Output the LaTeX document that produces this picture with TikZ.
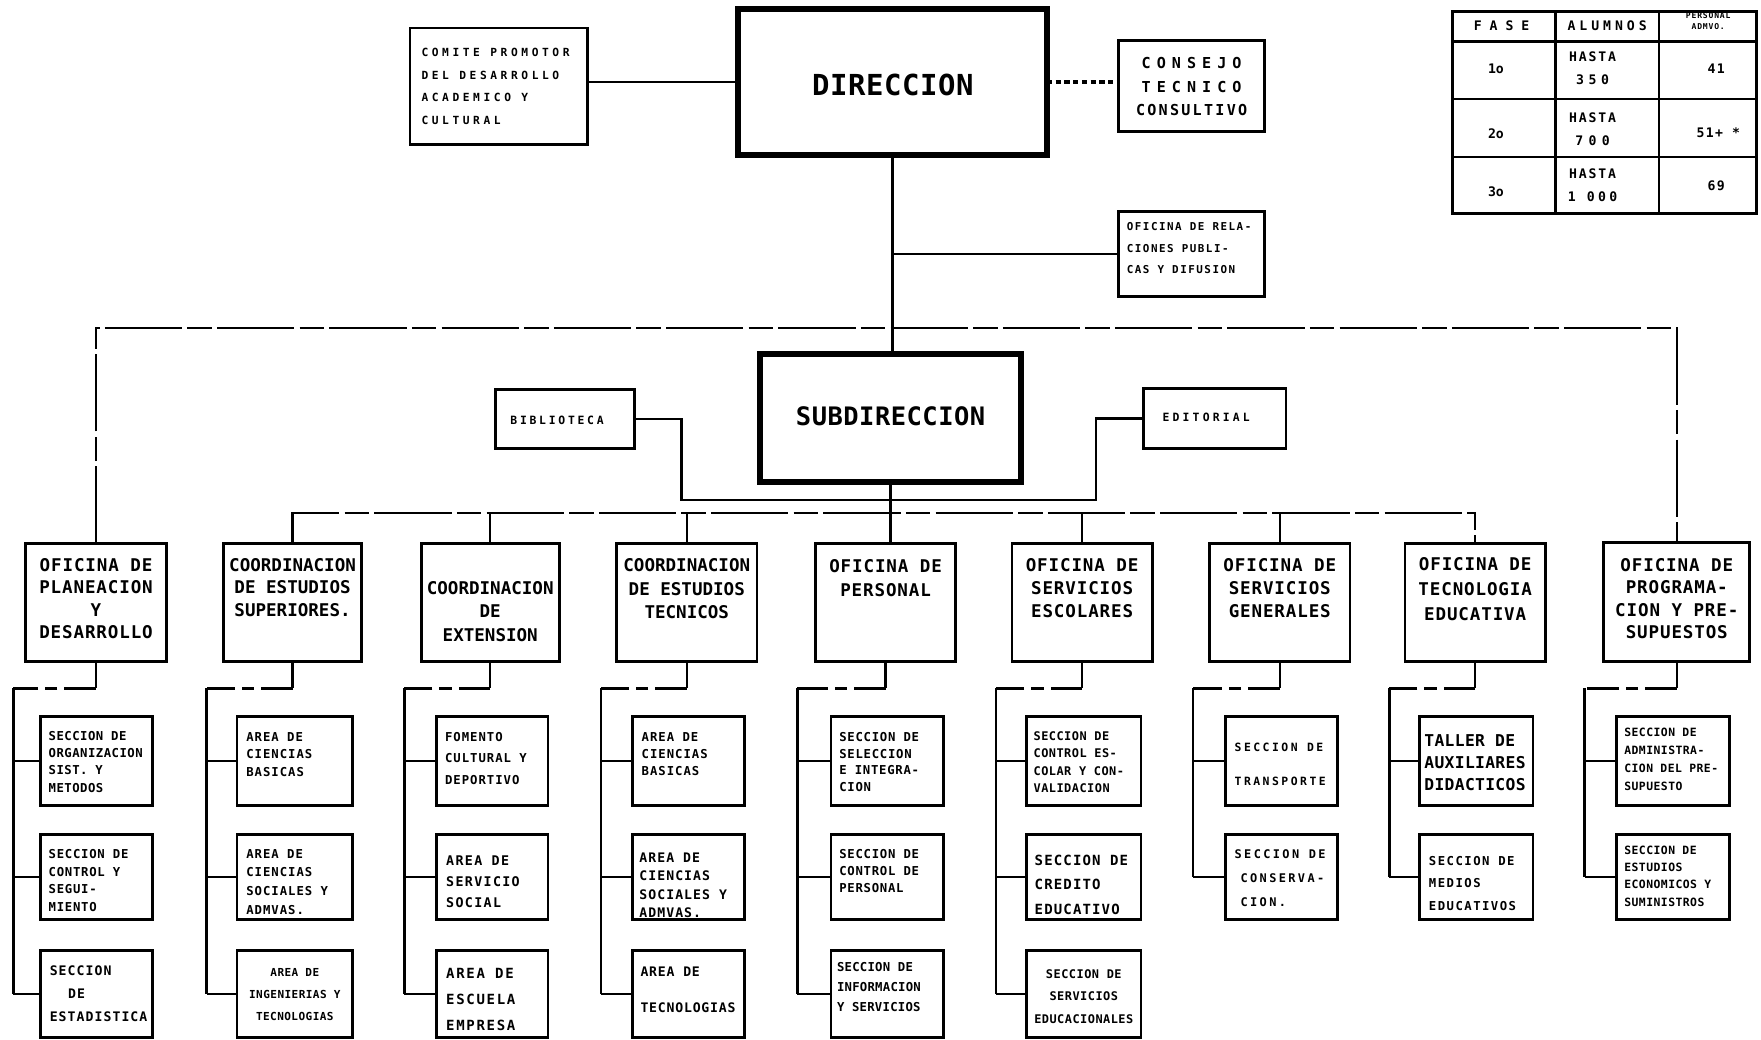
\documentclass[tikz,border=0pt]{standalone}
\usepackage{fontspec}
\newfontfamily\orgfont{DejaVu Sans Mono}
\usetikzlibrary{fit}
% lettering: size, baselineskip, letter spacing
\newcommand\fnt[3]{\orgfont\bfseries\fontsize{#1}{#2}\selectfont\addfontfeature{LetterSpace=#3}}
% boxed unit from two corners
\newcommand\ubox[6][box]{\node[#1, fit={(#3,#4) (#5,#6)}] (#2) {};}
\tikzset{
  box/.style={draw, line width=1.6pt, inner sep=0pt, outer sep=0pt},
  bigbox/.style={draw, line width=3.4pt, inner sep=0pt, outer sep=0pt},
  ln/.style={line width=1.4pt},
  worn/.style={ln, dash pattern=on 44pt off 3pt on 14pt off 3pt},
  gap/.style={ln, dash pattern=on 18pt off 4pt on 7pt off 4pt},
  dotln/.style={line width=2.2pt, dash pattern=on 3pt off 2pt},
  st/.style n args={3}{inner sep=0pt, align=left, anchor=north west, font=\fnt{#1}{#2}{#3}},
  ct/.style n args={3}{inner sep=0pt, align=center, anchor=north, font=\fnt{#1}{#2}{#3}},
  cc/.style n args={3}{inner sep=0pt, align=center, font=\fnt{#1}{#2}{#3}},
}
\begin{document}
\begin{tikzpicture}[x=0.0225cm, y=-0.0225cm]
\useasboundingbox (0,0) rectangle (1568,926);
\fill[white] (0,0) rectangle (1568,926);

% ---------- top level ----------
\ubox{comite}{365}{25}{523}{129}
\node[st={6.4}{12.8}{32}] (comitet) at (375,43) {COMITE PROMOTOR\\DEL DESARROLLO\\ACADEMICO Y\\CULTURAL};
\ubox[bigbox]{dir}{657}{8}{932}{138}
\node[cc={16.5}{20}{2}] (dirt) at (795,76) {DIRECCION};
\ubox{consejo}{996}{36}{1126}{117}
\node[ct={8.6}{13.4}{15}] (consejot) at (1061,51) {{\addfontfeature{LetterSpace=40}CONSEJO}\\{\addfontfeature{LetterSpace=40}TECNICO}\\CONSULTIVO};
\ubox{relac}{996}{188}{1126}{264}
\node[st={6.2}{12.2}{14}] (relact) at (1003,198) {OFICINA DE RELA-\\CIONES PUBLI-\\CAS Y DIFUSION};

% ---------- table of phases ----------
\ubox{tabla}{1293}{10}{1564}{190}
\draw[ln] (1385,10) -- (1385,190);
\draw[ln] (1477,10) -- (1477,190);
\draw[ln] (1293,37) -- (1564,37);
\draw[ln] (1293,88) -- (1564,88);
\draw[ln] (1293,140) -- (1564,140);
\node[cc={7.5}{9}{0}] (hfase) at (1337,23) {F A S E};
\node[cc={7.5}{9}{30}] (halum) at (1431,23) {ALUMNOS};
\node[cc={4.6}{6.5}{10}] (hpers) at (1521,19) {PERSONAL\\ADMVO.};
\node[cc={7.5}{9}{0}] (f1) at (1332,61) {1o};
\node[cc={7.5}{9}{0}] (f2) at (1332,119) {2o};
\node[cc={7.5}{9}{0}] (f3) at (1332,171) {3o};
\node[ct={7.5}{13.2}{14}] (a1) at (1418,46) {HASTA\\{\addfontfeature{LetterSpace=35}350}};
\node[ct={7.5}{13.2}{14}] (a2) at (1418,100) {HASTA\\{\addfontfeature{LetterSpace=40}700}};
\node[ct={7.5}{13.2}{14}] (a3) at (1418,150) {HASTA\\{\addfontfeature{LetterSpace=25}1 000}};
\node[cc={7.5}{9}{10}] (n1) at (1528,61) {41};
\node[cc={7.5}{9}{10}] (n2) at (1530,118) {51+ *};
\node[cc={7.5}{9}{10}] (n3) at (1528,165) {69};

% ---------- sub-direction ----------
\ubox[bigbox]{sub}{677}{315}{909}{429}
\node[cc={14.5}{17}{2}] (subt) at (793,371) {SUBDIRECCION};
\ubox{biblio}{441}{347}{565}{399}
\node[cc={6.5}{8}{24}] (bibliot) at (496,374) {BIBLIOTECA};
\ubox{edit}{1018}{346}{1145}{399}
\node[cc={6.5}{8}{28}] (editt) at (1074,372) {EDITORIAL};

% ---------- offices ----------
\ubox{p1}{23}{484}{148}{589}
\ubox{p2}{199}{484}{322}{589}
\ubox{p3}{375}{484}{498}{589}
\ubox{p4}{549}{484}{674}{589}
\ubox{p5}{726}{484}{851}{589}
\ubox{p6}{901}{484}{1026}{589}
\ubox{p7}{1077}{484}{1202}{589}
\ubox{p8}{1251}{484}{1376}{589}
\ubox{p9}{1428}{483}{1558}{589}

\node[ct={10}{12.8}{5}] (p1t) at (p1.north |- 0,497) {OFICINA DE\\PLANEACION\\Y\\DESARROLLO};
\node[ct={10}{12.8}{0}] (p2t) at (p2.north |- 0,497) {COORDINACION\\DE ESTUDIOS\\SUPERIORES.};
\node[ct={10}{13.4}{0}] (p3t) at (p3.north |- 0,517) {COORDINACION\\DE\\EXTENSION};
\node[ct={10}{13.4}{0}] (p4t) at (p4.north |- 0,497) {COORDINACION\\DE ESTUDIOS\\TECNICOS};
\node[ct={10}{13.4}{5}] (p5t) at (p5.north |- 0,498) {OFICINA DE\\PERSONAL};
\node[ct={10}{13.2}{5}] (p6t) at (p6.north |- 0,497) {OFICINA DE\\SERVICIOS\\ESCOLARES};
\node[ct={10}{13.2}{5}] (p7t) at (p7.north |- 0,497) {OFICINA DE\\SERVICIOS\\GENERALES};
\node[ct={10}{14.4}{5}] (p8t) at (p8.north |- 0,496) {OFICINA DE\\TECNOLOGIA\\EDUCATIVA};
\node[ct={10}{12.8}{5}] (p9t) at (p9.north |- 0,497) {OFICINA DE\\PROGRAMA-\\CION Y PRE-\\SUPUESTOS};

% ---------- links of the upper levels ----------
\draw[ln] (comite.east |- dir.west) -- (dir.west);
\draw[dotln] (dir.east) -- (dir.east -| consejo.west);
\draw[ln] (dir.south) -- (dir.south |- sub.north);
\draw[ln] (dir.south |- relac.west) -- (relac.west);

\coordinate (bj) at (607,445);
\coordinate (ej) at (976,445);
\draw[ln] (biblio.east) -| (bj) -- (bj -| sub.south);
\draw[ln] (edit.west) -| (ej) -- (ej -| sub.south);
\draw[ln] (sub.south) -- (sub.south |- p5.north);

\coordinate (topy) at (0,292);
\coordinate (busy) at (0,457);
\draw[worn] (p1.north) |- (p9.north |- topy) -- (p9.north);
\draw[worn] (p2.north) |- (p8.north |- busy) -- (p8.north);
\foreach \n in {p3,p4,p6,p7}
  \draw[ln] (\n.north) -- (\n.north |- busy);

% ---------- sections ----------
\ubox{s1a}{36}{638}{136}{717}
\ubox{s1b}{36}{743}{136}{819}
\ubox{s1c}{36}{846}{136}{924}
\ubox{s2a}{211}{638}{314}{717}
\ubox{s2b}{211}{743}{314}{819}
\ubox{s2c}{211}{846}{314}{924}
\ubox{s3a}{389}{638}{488}{717}
\ubox{s3b}{389}{743}{488}{819}
\ubox{s3c}{389}{846}{488}{924}
\ubox{s4a}{563}{638}{663}{717}
\ubox{s4b}{563}{743}{663}{819}
\ubox{s4c}{563}{846}{663}{924}
\ubox{s5a}{740}{638}{840}{717}
\ubox{s5b}{740}{743}{840}{819}
\ubox{s5c}{740}{846}{840}{924}
\ubox{s6a}{914}{638}{1016}{717}
\ubox{s6b}{914}{743}{1016}{819}
\ubox{s6c}{914}{846}{1016}{924}
\ubox{s7a}{1091}{638}{1191}{717}
\ubox{s7b}{1091}{743}{1191}{819}
\ubox{s8a}{1264}{638}{1365}{717}
\ubox{s8b}{1264}{743}{1365}{819}
\ubox{s9a}{1439}{638}{1540}{717}
\ubox{s9b}{1439}{743}{1540}{819}

\node[st={7}{9.8}{4}] (t1a) at (43,651) {SECCION DE\\ORGANIZACION\\SIST. Y\\METODOS};
\node[st={7}{10}{6}] (t1b) at (43,756) {SECCION DE\\CONTROL Y\\SEGUI-\\MIENTO};
\node[st={7.5}{13}{8}] (t1c) at (44,860) {SECCION\\\hspace*{1.4em}DE\\ESTADISTICA};
\node[st={7}{9.9}{8}] (t2a) at (219,652) {AREA DE\\CIENCIAS\\BASICAS};
\node[st={7}{10.6}{8}] (t2b) at (219,756) {AREA DE\\CIENCIAS\\SOCIALES Y\\ADMVAS.};
\node[ct={6.3}{12.4}{4}] (t2c) at (s2c.north |- 0,862) {AREA DE\\INGENIERIAS Y\\TECNOLOGIAS};
\node[st={7}{12.1}{8}] (t3a) at (396,652) {FOMENTO\\CULTURAL Y\\DEPORTIVO};
\node[st={7.6}{11.8}{10}] (t3b) at (397,762) {AREA DE\\SERVICIO\\SOCIAL};
\node[st={8}{14.7}{12}] (t3c) at (397,862) {AREA DE\\ESCUELA\\EMPRESA};
\node[st={7}{9.6}{8}] (t4a) at (571,652) {AREA DE\\CIENCIAS\\BASICAS};
\node[st={7.5}{10.5}{8}] (t4b) at (569,759) {AREA DE\\CIENCIAS\\SOCIALES Y\\ADMVAS.};
\node[st={7.5}{20.4}{6}] (t4c) at (570,861) {AREA DE\\TECNOLOGIAS};
\node[st={7}{9.4}{6}] (t5a) at (747,652) {SECCION DE\\SELECCION\\E INTEGRA-\\CION};
\node[st={7}{9.6}{6}] (t5b) at (747,756) {SECCION DE\\CONTROL DE\\PERSONAL};
\node[st={7}{11.2}{2}] (t5c) at (745,857) {SECCION DE\\INFORMACION\\Y SERVICIOS};
\node[st={6.8}{10}{4}] (t6a) at (920,651) {SECCION DE\\CONTROL ES-\\COLAR Y CON-\\VALIDACION};
\node[st={8}{14}{8}] (t6b) at (921,761) {SECCION DE\\CREDITO\\EDUCATIVO};
\node[ct={6.8}{12.8}{4}] (t6c) at (s6c.north |- 0,863) {SECCION DE\\SERVICIOS\\EDUCACIONALES};
\node[st={6.5}{19.8}{22}] (t7a) at (1099,661) {SECCION DE\\TRANSPORTE};
\node[st={6.8}{13.7}{20}] (t7b) at (1099,756) {SECCION DE\\\hspace*{0.5em}CONSERVA-\\\hspace*{0.5em}CION.};
\node[st={9.3}{12.4}{2}] (t8a) at (1268,654) {TALLER DE\\AUXILIARES\\DIDACTICOS};
\node[st={7}{12.8}{12}] (t8b) at (1272,762) {SECCION DE\\MEDIOS\\EDUCATIVOS};
\node[st={6.5}{10.2}{4}] (t9a) at (1446,648) {SECCION DE\\ADMINISTRA-\\CION DEL PRE-\\SUPUESTO};
\node[st={6.5}{9.8}{4}] (t9b) at (1446,753) {SECCION DE\\ESTUDIOS\\ECONOMICOS Y\\SUMINISTROS};

% ---------- links from each office to its sections ----------
\foreach \i/\vx/\last in {1/12/c, 2/184/c, 3/360/c, 4/535/c, 5/710/c, 6/887/c, 7/1062/b, 8/1237/b, 9/1411/b} {
  \coordinate (c\i) at (\vx,613);
  \draw[ln] (p\i.south) -- (p\i.south |- c\i);
  \draw[gap] (p\i.south |- c\i) -- (c\i);
  \draw[ln] (c\i) -- (c\i |- s\i\last.west);
}
\foreach \i/\r in {1/a,1/b,1/c,2/a,2/b,2/c,3/a,3/b,3/c,4/a,4/b,4/c,5/a,5/b,5/c,6/a,6/b,6/c,7/a,7/b,8/a,8/b,9/a,9/b}
  \draw[ln] (c\i |- s\i\r.west) -- (s\i\r.west);
\end{tikzpicture}
\end{document}
